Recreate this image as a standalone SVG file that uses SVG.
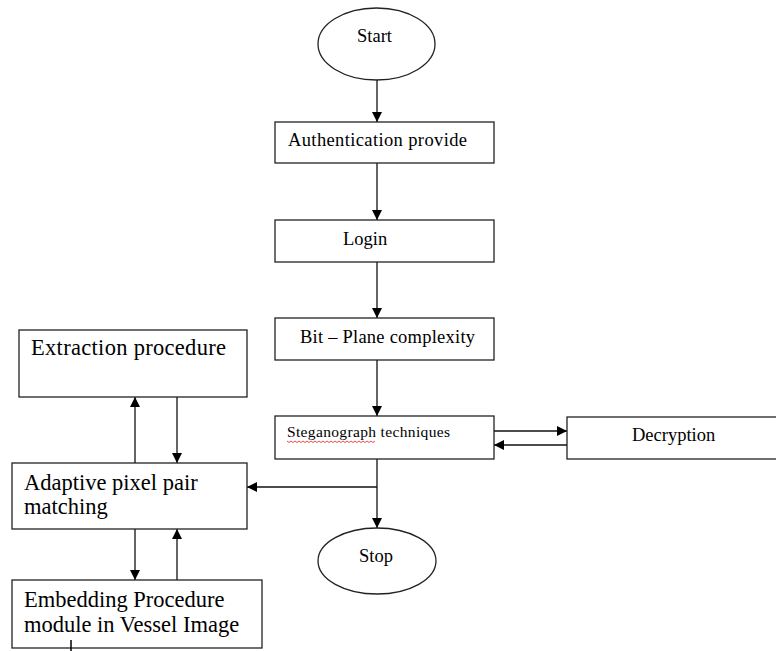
<svg xmlns="http://www.w3.org/2000/svg" width="776" height="651" viewBox="0 0 776 651">
<style>
.box{fill:#fff;stroke:#222;stroke-width:1.3}
.t{font-family:"Liberation Serif","Times New Roman",serif;fill:#000}
.c{stroke:#111;stroke-width:1.3;fill:none}
</style>
<defs>
<marker id="ah" viewBox="0 0 10 10" refX="10" refY="5" markerWidth="10" markerHeight="10" markerUnits="userSpaceOnUse" orient="auto">
<path d="M0,0 L10,5 L0,10 Z" fill="#000"/>
</marker>
</defs>
<rect width="776" height="651" fill="#fff"/>
<g id="connectors">
<line class="c" x1="377" y1="80" x2="377" y2="122" marker-end="url(#ah)"/>
<line class="c" x1="377" y1="163" x2="377" y2="220" marker-end="url(#ah)"/>
<line class="c" x1="377" y1="262" x2="377" y2="318" marker-end="url(#ah)"/>
<line class="c" x1="377" y1="360" x2="377" y2="416" marker-end="url(#ah)"/>
<line class="c" x1="494" y1="431" x2="567" y2="431" marker-end="url(#ah)"/>
<line class="c" x1="567" y1="445" x2="494" y2="445" marker-end="url(#ah)"/>
<line class="c" x1="377" y1="459" x2="377" y2="528" marker-end="url(#ah)"/>
<line class="c" x1="377" y1="487" x2="247" y2="487" marker-end="url(#ah)"/>
<line class="c" x1="135" y1="463" x2="135" y2="397" marker-end="url(#ah)"/>
<line class="c" x1="177" y1="397" x2="177" y2="463" marker-end="url(#ah)"/>
<line class="c" x1="135" y1="529" x2="135" y2="580" marker-end="url(#ah)"/>
<line class="c" x1="177" y1="580" x2="177" y2="529" marker-end="url(#ah)"/>
</g>
<g id="start">
<ellipse class="box" cx="376.5" cy="44" rx="58.5" ry="36"/>
<text class="t" x="357" y="42" font-size="18.5">Start</text>
</g>
<g id="auth">
<rect class="box" x="275" y="122" width="219" height="41"/>
<text class="t" x="288" y="146" font-size="18.5" textLength="179">Authentication provide</text>
</g>
<g id="login">
<rect class="box" x="275" y="220" width="219" height="42"/>
<text class="t" x="343" y="245" font-size="18.5">Login</text>
</g>
<g id="bitplane">
<rect class="box" x="275" y="318" width="219" height="42"/>
<text class="t" x="300" y="343" font-size="18.5" textLength="175">Bit – Plane complexity</text>
</g>
<g id="stegano">
<rect class="box" x="275" y="416" width="219" height="43"/>
<text class="t" x="287" y="437" font-size="15.5" textLength="163">Steganograph techniques</text>
<path d="M287,441 l2,1.5 l2,-1.5 l2,1.5 l2,-1.5 l2,1.5 l2,-1.5 l2,1.5 l2,-1.5 l2,1.5 l2,-1.5 l2,1.5 l2,-1.5 l2,1.5 l2,-1.5 l2,1.5 l2,-1.5 l2,1.5 l2,-1.5 l2,1.5 l2,-1.5 l2,1.5 l2,-1.5 l2,1.5 l2,-1.5 l2,1.5 l2,-1.5 l2,1.5 l2,-1.5 l2,1.5 l2,-1.5 l2,1.5 l2,-1.5 l2,1.5 l2,-1.5 l2,1.5 l2,-1.5 l2,1.5 l2,-1.5 l2,1.5 l2,-1.5 l2,1.5 l2,-1.5 l2,1.5 l2,-1.5" fill="none" stroke="#e02020" stroke-width="0.8"/>
</g>
<g id="decryption">
<rect class="box" x="567" y="417" width="212" height="42"/>
<text class="t" x="632" y="441" font-size="18.5">Decryption</text>
</g>
<g id="stop">
<ellipse class="box" cx="377" cy="561" rx="59" ry="33"/>
<text class="t" x="359" y="562" font-size="18.5">Stop</text>
</g>
<g id="extraction">
<rect class="box" x="19" y="330" width="228" height="67"/>
<text class="t" x="31" y="355" font-size="22.5" textLength="195">Extraction procedure</text>
</g>
<g id="adaptive">
<rect class="box" x="12" y="463" width="235" height="66"/>
<text class="t" x="24" y="490" font-size="22.5">Adaptive pixel pair</text>
<text class="t" x="24" y="514" font-size="22.5">matching</text>
</g>
<g id="embedding">
<rect class="box" x="12" y="580" width="250" height="68"/>
<text class="t" x="24" y="607" font-size="22.5">Embedding Procedure</text>
<text class="t" x="24" y="632" font-size="22.5">module in Vessel Image</text>
<line x1="71" y1="640" x2="71" y2="651" stroke="#000" stroke-width="1.5"/>
</g>
</svg>
